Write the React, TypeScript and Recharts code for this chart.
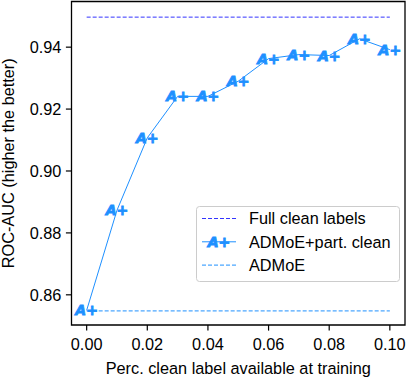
import { ComposedChart, Line, XAxis, YAxis, ReferenceArea, Legend } from "recharts";

const percClean = [0, 0.01, 0.02, 0.03, 0.04, 0.05, 0.06, 0.07, 0.08, 0.09, 0.1];
const admoePartClean = [0.855, 0.8873, 0.9107, 0.9241, 0.9241, 0.929, 0.9363, 0.9376, 0.9373, 0.9427, 0.9392];
const fullCleanX = [0, 0.1];
const fullCleanAuc = [0.9497, 0.9497];
const admoeX = [0, 0.1];
const admoeAuc = [0.8548, 0.8548];
const xTicks = [0, 0.02, 0.04, 0.06, 0.08, 0.1];
const yTicks = [0.86, 0.88, 0.9, 0.92, 0.94];
const xDomain = [-0.005, 0.105];
const yDomain = [0.85025, 0.95475];

const FONT = "'Liberation Sans', Arial, Helvetica, sans-serif";
const FS = 16.3;
const DODGER = "#1e90ff";
const FULL = "#3333ff";

const partData = percClean.map((x, i) => ({ x, auc: admoePartClean[i] }));
const fullData = fullCleanX.map((x, i) => ({ x, auc: fullCleanAuc[i] }));
const admoeData = admoeX.map((x, i) => ({ x, auc: admoeAuc[i] }));

// "A+" text marker, centred on the point like a mathtext marker
function APlus({ cx, cy }: { cx: number; cy: number }) {
  return (
    <text
      x={cx}
      y={cy + 5.1}
      textAnchor="middle"
      fontFamily="'DejaVu Sans', sans-serif"
      fontSize={14}
      fontWeight="bold"
      fill={DODGER}
      stroke={DODGER}
      strokeWidth={0.9}
    >
      <tspan fontStyle="italic">A</tspan>
      <tspan>+</tspan>
    </text>
  );
}

function LegendBox() {
  const rows = [
    { label: "Full clean labels", color: FULL, dash: "4 2", marker: false },
    { label: "ADMoE+part. clean", color: DODGER, dash: undefined, marker: true },
    { label: "ADMoE", color: DODGER, dash: "4 2", marker: false },
  ];
  return (
    <svg width={205} height={77} style={{ display: "block" }}>
      <rect x={0.5} y={0.5} width={203} height={75} rx={3} fill="#fff" fillOpacity={0.8} stroke="#cccccc" strokeWidth={1} />
      {rows.map((r, i) => {
        const y = 12.5 + i * 23.3;
        return (
          <g key={r.label}>
            <line x1={6} x2={40} y1={y} y2={y} stroke={r.color} strokeWidth={1} strokeDasharray={r.dash} />
            {r.marker && <APlus cx={23} cy={y} />}
            <text x={53} y={y + 5.8} fontFamily={FONT} fontSize={FS} fill="#000">
              {r.label}
            </text>
          </g>
        );
      })}
    </svg>
  );
}

function YLabel({ viewBox }: any) {
  const cx = 13.5;
  const cy = viewBox.y + viewBox.height / 2;
  return (
    <text x={cx} y={cy} transform={`rotate(-90 ${cx} ${cy})`} textAnchor="middle" fontFamily={FONT} fontSize={FS} fill="#000">
      ROC-AUC (higher the better)
    </text>
  );
}

function XLabel({ viewBox }: any) {
  const cx = viewBox.x + viewBox.width / 2;
  return (
    <text x={cx} y={373.5} textAnchor="middle" fontFamily={FONT} fontSize={FS} fill="#000">
      Perc. clean label available at training
    </text>
  );
}

export default function App() {
  return (
    <div style={{ position: "absolute", left: 0, top: 0 }}>
      <ComposedChart width={407} height={380} margin={{ top: 1.5, right: 2, left: 0, bottom: 0 }}>
        <XAxis
          type="number"
          dataKey="x"
          domain={xDomain}
          allowDataOverflow
          ticks={xTicks}
          tickFormatter={(v: number) => v.toFixed(2)}
          height={55}
          axisLine={false}
          tickLine={{ stroke: "#000", strokeWidth: 1.2 }}
          tickSize={5.6}
          tickMargin={8}
          tick={{ fontSize: FS, fill: "#000", fontFamily: FONT }}
          label={<XLabel />}
        />
        <YAxis
          type="number"
          domain={yDomain}
          allowDataOverflow
          ticks={yTicks}
          tickFormatter={(v: number) => v.toFixed(2)}
          width={71.5}
          axisLine={false}
          tickLine={{ stroke: "#000", strokeWidth: 1.2 }}
          tickSize={5.6}
          tickMargin={4.5}
          tick={{ fontSize: FS, fill: "#000", fontFamily: FONT }}
          label={<YLabel />}
        />
        <ReferenceArea x1={xDomain[0]} x2={xDomain[1]} y1={yDomain[0]} y2={yDomain[1]} fill="none" stroke="#000" strokeWidth={1.3} />
        <Line data={fullData} dataKey="auc" stroke={FULL} strokeWidth={1} strokeDasharray="4 2" dot={false} isAnimationActive={false} />
        <Line data={admoeData} dataKey="auc" stroke={DODGER} strokeWidth={1} strokeDasharray="4 2" dot={false} isAnimationActive={false} />
        <Line
          data={partData}
          dataKey="auc"
          stroke={DODGER}
          strokeWidth={1}
          dot={(p: any) => <APlus key={p.index} cx={p.cx} cy={p.cy} />}
          isAnimationActive={false}
        />
        <Legend
          layout="vertical"
          align="center"
          verticalAlign="middle"
          content={() => <LegendBox />}
          wrapperStyle={{ left: 196, top: 206, width: 205, height: 77 }}
        />
      </ComposedChart>
    </div>
  );
}
